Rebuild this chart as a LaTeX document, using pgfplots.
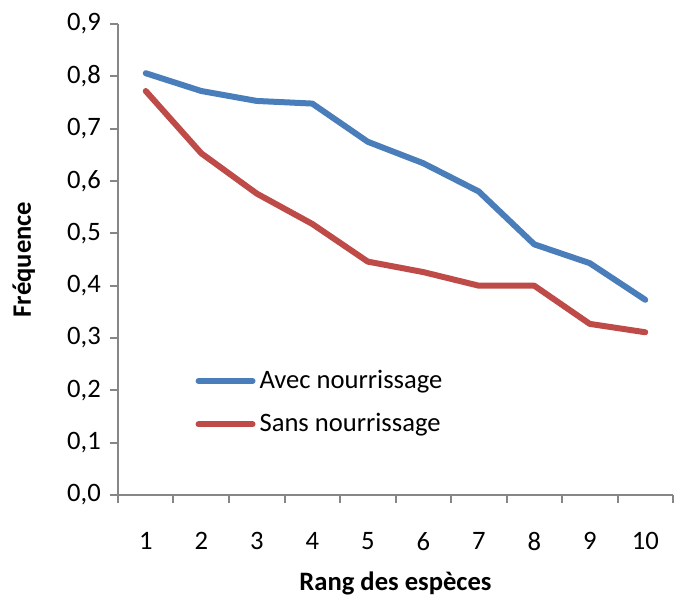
\documentclass[border=0pt]{standalone}
\usepackage{fontspec}
\setmainfont{Carlito}
\usepackage{pgfplots}
\pgfplotsset{compat=1.18}
\definecolor{xlblue}{HTML}{4A7EBB}
\definecolor{xlred}{HTML}{BE4B48}
\definecolor{axgray}{HTML}{868686}
\begin{document}
\fontsize{13.3}{16}\selectfont
\begin{tikzpicture}
\path[use as bounding box] (-59pt,-50.5pt) rectangle (282.5pt,247.5pt);
\begin{axis}[
  scale only axis,
  width=277.5pt, height=235.5pt,
  xmin=0.5, xmax=10.5, ymin=0, ymax=0.9,
  axis x line*=bottom, axis y line*=left,
  axis line style={axgray, line width=1pt, -},
  xtick={1,...,10},
  xticklabels={1,2,3,4,5,6,7,8,9,10},
  minor xtick={0.5,1.5,...,10.5},
  ytick={0,0.1,...,0.9},
  tick align=outside,
  major tick length=4pt,
  minor tick length=4pt,
  x tick style={draw=none},
  minor x tick style={draw=axgray, line width=1pt},
  y tick style={axgray, line width=1pt},
  ymajorgrids=false,
  yticklabel style={/pgf/number format/.cd, fixed, fixed zerofill, precision=1, use comma, assume math mode=true},
  /pgf/number format/assume math mode=true,
  scaled y ticks=false,
  xticklabel style={yshift=-10pt},
  tick label style={font=\fontsize{13.3}{16}\selectfont},
  xlabel={\textbf{Rang des espèces}},
  ylabel={\textbf{Fréquence}},
  label style={font=\fontsize{13.3}{16}\selectfont},
  xlabel style={yshift=-1.5pt},
  ylabel style={yshift=7pt},
  legend style={at={(0.139,0.275)}, anchor=north west, draw=none, fill=none,
    font=\fontsize{13.3}{16}\selectfont, row sep=6.5pt, inner sep=0pt,
    /tikz/every even column/.append style={column sep=0pt}},
  legend cell align=left,
  legend image code/.code={\draw[#1, line width=3pt, line cap=round] (0pt,0pt) -- (27pt,0pt);},
]
\addplot[xlblue, line width=3pt, line cap=round, line join=round] coordinates {
(1,0.806) (2,0.772) (3,0.753) (4,0.748) (5,0.675) (6,0.634) (7,0.580) (8,0.479) (9,0.443) (10,0.373)};
\addlegendentry{Avec nourrissage}
\addplot[xlred, line width=3pt, line cap=round, line join=round] coordinates {
(1,0.772) (2,0.653) (3,0.576) (4,0.518) (5,0.446) (6,0.426) (7,0.400) (8,0.400) (9,0.327) (10,0.311)};
\addlegendentry{Sans nourrissage}
\end{axis}
\end{tikzpicture}
\end{document}
